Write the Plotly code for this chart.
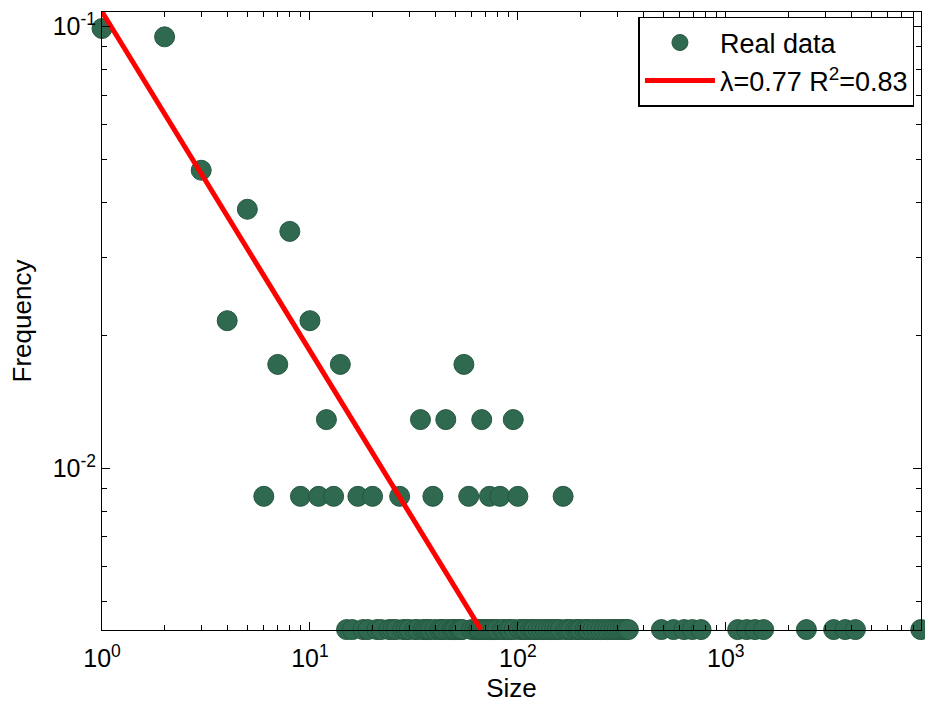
import plotly.graph_objects as go

# ---------------- data ----------------
# Points by frequency level
size_f0990 = [1]
size_f0948 = [2]
size_f0473 = [3]
size_f0386 = [5]
size_f0344 = [8]
size_f0216 = [4, 10]
size_f0172 = [7, 14, 55]
size_f0129 = [12, 34, 45, 67, 95]
size_f00865 = [6, 9, 11, 13, 17, 20, 27, 39, 58, 73, 82, 100, 165]
size_f00432 = [15, 16, 18, 19, 21, 22, 24, 25, 26, 28, 29, 30, 32, 33, 35, 36,
               37, 38, 40, 42, 43, 44, 46, 48, 49, 50, 52, 53, 54, 60, 62, 64,
               65, 66, 68, 70, 72, 74, 76, 78, 80, 84, 86, 90, 92, 96, 102, 105,
               108, 110, 115, 118, 120, 125, 130, 135, 140, 145, 150, 155, 160,
               170, 175, 180, 190, 195, 200, 210, 215, 220, 230, 240, 250, 260,
               270, 280, 290, 300, 310, 320, 330, 340,
               490, 560, 630, 690, 760, 1140, 1260, 1380, 1520, 2440, 3300,
               3750, 4200, 8660]

levels = [
    (0.0990, size_f0990), (0.0948, size_f0948), (0.0473, size_f0473),
    (0.0386, size_f0386), (0.0344, size_f0344), (0.0216, size_f0216),
    (0.0172, size_f0172), (0.0129, size_f0129), (0.00865, size_f00865),
    (0.00432, size_f00432),
]

sizes = []
freqs = []
for f, xs in levels:
    for s in xs:
        sizes.append(s)
        freqs.append(f)

# power-law fit line endpoints
fit_x = [1, 66.4]
fit_y = [0.108, 0.00432]

x_tickvals = [1, 10, 100, 1000]
x_ticktext = ["10<sup>0</sup>", "10<sup>1</sup>", "10<sup>2</sup>", "10<sup>3</sup>"]
y_tickvals = [0.01, 0.1]
y_ticktext = ["10<sup>-2</sup>", "10<sup>-1</sup>"]

x_minor = [m * 10 ** e for e in range(0, 4) for m in range(2, 10)]
y_minor = [m * 10 ** e for e in (-3, -2) for m in range(2, 10)]

# ---------------- figure ----------------
FONT = "Arial, Liberation Sans, sans-serif"
fig = go.Figure()
fig.add_trace(go.Scatter(
    x=sizes, y=freqs, mode="markers", name="Real data",
    marker=dict(size=20, color="#2f6a50", line=dict(color="#24563f", width=1)),
    cliponaxis=False,
))
fig.add_trace(go.Scatter(
    x=fit_x, y=fit_y, mode="lines", name="λ=0.77 R<sup>2</sup>=0.83",
    line=dict(color="#ff0000", width=5), cliponaxis=False,
))

axis_common = dict(
    type="log", showgrid=False, zeroline=False, showline=True,
    linecolor="black", linewidth=1, mirror="ticks",
    ticks="inside", ticklen=8, tickcolor="black", tickwidth=1,
    tickfont=dict(family=FONT, size=25, color="black"),
)

fig.update_layout(
    width=925, height=703,
    margin=dict(l=102, r=4, t=12, b=73),
    paper_bgcolor="white", plot_bgcolor="white",
    font=dict(family=FONT, color="black"),
    showlegend=True,
    legend=dict(
        x=0.992, y=0.992, xanchor="right", yanchor="top",
        bgcolor="white", bordercolor="black", borderwidth=1.5,
        font=dict(family=FONT, size=27, color="black"),
        itemwidth=70,
    ),
    xaxis=dict(
        **axis_common,
        range=[0, 3.9385],
        tickmode="array", tickvals=x_tickvals, ticktext=x_ticktext,
        ticklabelstandoff=6,
        minor=dict(tickmode="array", tickvals=x_minor, ticks="inside",
                   ticklen=5, tickcolor="black", showgrid=False),
        title=dict(text="Size", font=dict(family=FONT, size=26), standoff=9),
    ),
    yaxis=dict(
        **axis_common,
        range=[-2.3655, -0.967],
        tickmode="array", tickvals=y_tickvals, ticktext=y_ticktext,
        minor=dict(tickmode="array", tickvals=y_minor, ticks="inside",
                   ticklen=5, tickcolor="black", showgrid=False),
        title=dict(text="Frequency", font=dict(family=FONT, size=26), standoff=13),
    ),
)

fig.write_html("out.html")
